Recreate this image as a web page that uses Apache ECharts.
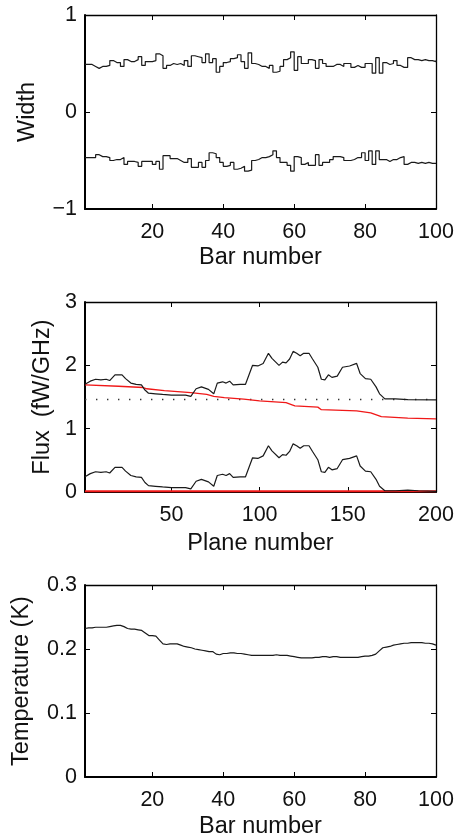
<!DOCTYPE html>
<html>
<head>
<meta charset="utf-8">
<script src="https://cdn.jsdelivr.net/npm/echarts@6/dist/echarts.min.js"></script>
<style>
html,body{margin:0;padding:0;background:#fff;}
#c{width:458px;height:840px;}
</style>
</head>
<body>
<div id="c"></div>
<script>
// ---------- Panel 1: bar widths (stairs) ----------
var widthUpper = [0.49,0.49,0.47,0.45,0.47,0.47,0.48,0.53,0.51,0.51,
  0.47,0.54,0.52,0.52,0.54,0.57,0.48,0.52,0.52,0.53,
  0.60,0.58,0.45,0.48,0.50,0.49,0.50,0.48,0.53,0.47,
  0.58,0.57,0.56,0.51,0.60,0.51,0.55,0.41,0.47,0.51,
  0.52,0.55,0.56,0.59,0.52,0.45,0.61,0.50,0.49,0.47,
  0.47,0.45,0.48,0.41,0.42,0.47,0.54,0.56,0.62,0.43,
  0.57,0.50,0.50,0.54,0.53,0.45,0.54,0.50,0.47,0.47,
  0.49,0.49,0.47,0.50,0.50,0.46,0.48,0.46,0.46,0.50,
  0.50,0.40,0.56,0.40,0.51,0.49,0.50,0.53,0.48,0.46,
  0.46,0.56,0.54,0.54,0.53,0.54,0.53,0.53,0.52,0.53];
var widthLower = [-0.47,-0.47,-0.47,-0.44,-0.46,-0.46,-0.47,-0.50,-0.49,-0.49,
  -0.47,-0.54,-0.51,-0.51,-0.52,-0.56,-0.51,-0.51,-0.51,-0.54,
  -0.51,-0.59,-0.45,-0.45,-0.48,-0.48,-0.50,-0.52,-0.52,-0.48,
  -0.57,-0.57,-0.52,-0.57,-0.50,-0.42,-0.43,-0.47,-0.52,-0.56,
  -0.55,-0.52,-0.59,-0.58,-0.56,-0.61,-0.60,-0.50,-0.49,-0.47,
  -0.47,-0.46,-0.44,-0.40,-0.47,-0.52,-0.52,-0.55,-0.61,-0.46,
  -0.47,-0.54,-0.52,-0.55,-0.55,-0.44,-0.55,-0.52,-0.52,-0.49,
  -0.46,-0.46,-0.47,-0.50,-0.50,-0.49,-0.47,-0.47,-0.42,-0.50,
  -0.40,-0.54,-0.40,-0.49,-0.49,-0.51,-0.49,-0.49,-0.47,-0.46,
  -0.54,-0.52,-0.52,-0.53,-0.52,-0.53,-0.52,-0.53,-0.53,-0.53];
var barTicks = [20,40,60,80,100];
var widthTickLabels = {'-1':'\u22121','0':'0','1':'1'};

// ---------- Panel 2: flux vs plane ----------
var fluxUpper = [[1,1.70],[4,1.75],[7,1.78],[10,1.77],[13,1.78],[15,1.76],[18,1.85],[22,1.85],[24,1.79],[27,1.72],[30,1.70],[33,1.69],[35,1.61],[37,1.56],[41,1.55],[45,1.54],[50,1.53],[54,1.53],[58,1.53],[61,1.51],[64,1.63],[67,1.66],[71,1.62],[74,1.55],[76,1.72],[79,1.74],[81,1.72],[83,1.75],[85,1.69],[89,1.70],[92,1.70],[94,1.85],[96,2.00],[99,1.99],[102,2.03],[105,2.19],[107,2.11],[108,2.14],[111,2.00],[113,2.05],[115,2.04],[117,2.10],[119,2.22],[121,2.19],[123,2.15],[125,2.19],[128,2.19],[130,2.10],[133,1.97],[135,1.78],[137,1.77],[139,1.85],[141,1.81],[144,1.83],[147,1.97],[151,1.99],[155,2.03],[157,1.87],[160,1.79],[163,1.78],[166,1.66],[168,1.55],[171,1.47],[177,1.47],[184,1.46],[200,1.455]];
var fluxLower = [[1,0.24],[4,0.29],[7,0.32],[10,0.31],[13,0.32],[15,0.30],[18,0.39],[22,0.39],[24,0.33],[27,0.26],[30,0.24],[33,0.23],[35,0.15],[37,0.10],[41,0.09],[45,0.08],[50,0.07],[54,0.07],[58,0.07],[61,0.05],[64,0.17],[67,0.20],[71,0.16],[74,0.09],[76,0.26],[79,0.28],[81,0.26],[83,0.29],[85,0.23],[89,0.24],[92,0.24],[94,0.39],[96,0.54],[99,0.53],[102,0.57],[105,0.73],[107,0.65],[108,0.68],[111,0.54],[113,0.59],[115,0.58],[117,0.64],[119,0.76],[121,0.73],[123,0.69],[125,0.73],[128,0.73],[130,0.64],[133,0.51],[135,0.32],[137,0.31],[139,0.39],[141,0.35],[144,0.37],[147,0.51],[151,0.53],[155,0.57],[157,0.41],[160,0.33],[163,0.32],[166,0.20],[168,0.09],[171,0.02],[177,0.02],[184,0.03],[190,0.02],[200,0.01]];
var fluxRedUpper = [[1,1.69],[20,1.67],[34,1.65],[36,1.63],[46,1.60],[61,1.57],[70,1.54],[74,1.51],[80,1.49],[91,1.465],[100,1.44],[115,1.41],[118,1.38],[120,1.36],[133,1.34],[135,1.30],[155,1.28],[163,1.25],[167,1.21],[169,1.19],[184,1.165],[200,1.155]];
var fluxRedLower = [[1,0.01],[200,0.01]];
var fluxLevel = 1.46;
var planeTicks = [50,100,150,200];

// ---------- Panel 3: temperature ----------
var temperature = [0.232,0.233,0.233,0.234,0.234,0.234,0.234,0.235,0.236,0.237,
  0.237,0.235,0.232,0.231,0.231,0.230,0.229,0.225,0.221,0.221,
  0.220,0.214,0.208,0.207,0.208,0.208,0.208,0.206,0.204,0.203,
  0.202,0.200,0.199,0.198,0.197,0.196,0.196,0.192,0.191,0.193,
  0.193,0.194,0.194,0.193,0.193,0.192,0.191,0.190,0.190,0.190,
  0.190,0.190,0.190,0.190,0.191,0.190,0.190,0.190,0.189,0.188,
  0.187,0.186,0.186,0.186,0.186,0.187,0.187,0.188,0.188,0.187,
  0.188,0.188,0.187,0.187,0.187,0.187,0.187,0.187,0.188,0.189,
  0.189,0.190,0.192,0.197,0.202,0.203,0.204,0.206,0.207,0.208,
  0.209,0.209,0.210,0.210,0.210,0.210,0.209,0.209,0.208,0.206];

function withBars(arr){ return arr.map(function(v,i){ return [i+1, v]; }); }

var FONT = 'Liberation Sans, Arial, Helvetica, sans-serif';
var FS = 21.5;   // tick labels
var NFS = 23.5;  // axis names
var grids = [
  {left:85, right:22, top:15, height:194},
  {left:85, right:22, top:302, height:190},
  {left:85, right:22, top:585, height:194}
];

function xAxes(gi, min, max, ticks, name, nameGap){
  return [
    {type:'value', gridIndex:gi, min:min, max:max, position:'bottom',
     name:name, nameLocation:'middle', nameGap:nameGap,
     nameTextStyle:{fontFamily:FONT, fontSize:NFS, color:'#111'},
     axisLine:{show:true, onZero:false, lineStyle:{color:'#000', width:2}},
     axisTick:{show:true, inside:true, length:5, customValues:ticks, lineStyle:{color:'#000', width:1}},
     axisLabel:{show:true, customValues:ticks, margin:12, fontFamily:FONT, fontSize:FS, color:'#111'},
     splitLine:{show:false}},
    {type:'value', gridIndex:gi, min:min, max:max, position:'top',
     axisLine:{show:true, onZero:false, lineStyle:{color:'#000', width:1.3}},
     axisTick:{show:true, inside:true, length:5, customValues:ticks, lineStyle:{color:'#000', width:1}},
     axisLabel:{show:false}, splitLine:{show:false}}
  ];
}
function yAxes(gi, min, max, interval, name, nameGap, fmt){
  return [
    {type:'value', gridIndex:gi, min:min, max:max, interval:interval, position:'left',
     name:name, nameLocation:'middle', nameGap:nameGap,
     nameTextStyle:{fontFamily:FONT, fontSize:NFS, color:'#111'},
     axisLine:{show:true, onZero:false, lineStyle:{color:'#000', width:2}},
     axisTick:{show:true, inside:true, length:5, lineStyle:{color:'#000', width:1}},
     axisLabel:{show:true, margin:8, fontFamily:FONT, fontSize:FS, color:'#111', formatter:fmt},
     splitLine:{show:false}},
    {type:'value', gridIndex:gi, min:min, max:max, interval:interval, position:'right',
     axisLine:{show:true, onZero:false, lineStyle:{color:'#000', width:1.3}},
     axisTick:{show:true, inside:true, length:5, lineStyle:{color:'#000', width:1}},
     axisLabel:{show:false}, splitLine:{show:false}}
  ];
}

var xA = [].concat(
  xAxes(0, 1, 100, barTicks, 'Bar number', 37),
  xAxes(1, 1, 200, planeTicks, 'Plane number', 40),
  xAxes(2, 1, 100, barTicks, 'Bar number', 38)
);
var yA = [].concat(
  yAxes(0, -1, 1, 1, 'Width', 45, function(v){ return widthTickLabels[String(v)]; }),
  yAxes(1, 0, 3, 1, 'Flux  (fW/GHz)', 29, function(v){ return String(v); }),
  yAxes(2, 0, 0.3, 0.1, 'Temperature (K)', 51, function(v){ return v === 0 ? '0' : v.toFixed(1); })
);

function line(xi, yi, data, color, width, extra){
  var s = {type:'line', xAxisIndex:xi, yAxisIndex:yi, data:data, symbol:'none',
    lineStyle:{color:color, width:width}, silent:true, animation:false};
  if (extra) for (var k in extra) s[k] = extra[k];
  return s;
}

var series = [
  line(0, 0, withBars(widthUpper), '#1a1a1a', 1.2, {step:'end'}),
  line(0, 0, withBars(widthLower), '#1a1a1a', 1.2, {step:'end'}),
  {type:'line', xAxisIndex:2, yAxisIndex:2, data:[[1,fluxLevel],[200,fluxLevel]], symbol:'none',
   lineStyle:{color:'#333', width:1.4, type:[1.4,9.6]}, silent:true, animation:false},
  line(2, 2, fluxRedUpper, '#f01818', 1.3),
  line(2, 2, fluxRedLower, '#f01818', 2),
  line(2, 2, fluxUpper, '#1a1a1a', 1.2),
  line(2, 2, fluxLower, '#1a1a1a', 1.2),
  line(4, 4, withBars(temperature), '#1a1a1a', 1.2)
];

var chart = echarts.init(document.getElementById('c'), null, {renderer:'canvas'});
chart.setOption({
  animation:false,
  backgroundColor:'#fff',
  grid: grids,
  xAxis: xA,
  yAxis: yA,
  series: series
});
</script>
</body>
</html>
